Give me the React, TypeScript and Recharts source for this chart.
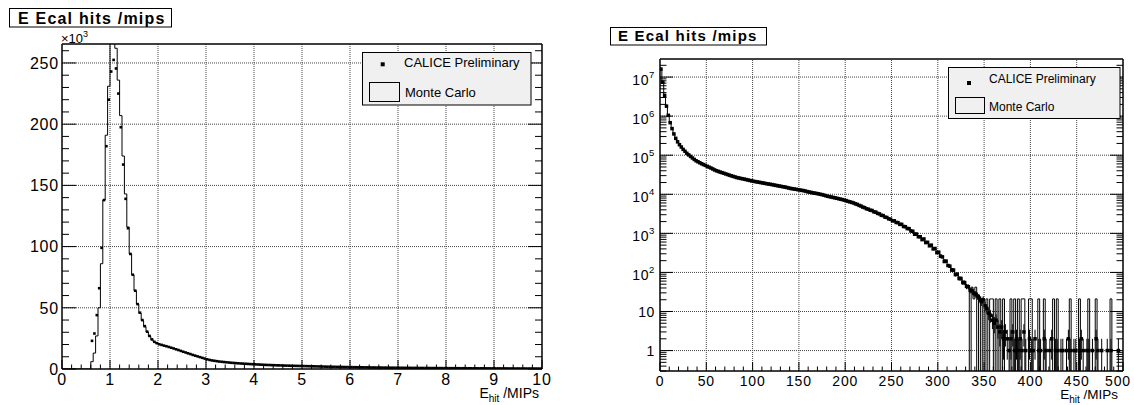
import React from 'react';
import { ComposedChart, Line, Scatter, XAxis, YAxis, ReferenceLine, ErrorBar } from 'recharts';

const FONT = '"Liberation Sans", Arial, Helvetica, sans-serif';

// ---- left panel: E_hit in MIPs, 0.05 MIP bins, entries in units of 10^3 ----
const leftBinWidth = 0.05;
const leftYMax = 265.5;

// bins 0..39 (0 - 2 MIPs), MC histogram
const leftMcHead = [
  0, 0, 0, 0, 0, 0, 0, 0, 0, 0,
  0, 0, 6, 13, 27, 50, 86, 138, 191, 231,
  280, 272, 262, 236, 207, 174, 143, 116, 94, 77,
  64, 53, 45.5, 39.5, 34.6, 30.2, 26.6, 23.9, 22, 20.9
];
// bins 0..39, data points
const leftDataHead = [
  0, 0, 0, 0, 0, 0, 0, 0, 0, 0,
  0, 0, 23, 29, 44, 66, 99, 138, 182, 220,
  243, 252.5, 245.5, 225, 197.5, 167, 139, 115, 94, 77,
  64, 53, 46, 40, 35, 30.5, 27, 24.2, 22.2, 21.1
];
// bins 40..199 (2 - 10 MIPs), data and MC lie on top of each other here
const leftTail = [
  20.2, 19.7, 19.1, 18.6, 18.0, 17.4, 16.8, 16.1, 15.5, 14.8,
  14.1, 13.5, 12.8, 12.2, 11.5, 10.9, 10.3, 9.7, 9.1, 8.5,
  7.9, 7.4, 7.0, 6.7, 6.4, 6.1, 5.9, 5.7, 5.5, 5.3,
  5.1, 4.95, 4.8, 4.65, 4.5, 4.4, 4.25, 4.15, 4.0, 3.9,
  3.8, 3.7, 3.6, 3.5, 3.4, 3.3, 3.25, 3.15, 3.1, 3.0,
  2.95, 2.9, 2.8, 2.75, 2.7, 2.65, 2.6, 2.55, 2.5, 2.45,
  2.4, 2.35, 2.3, 2.25, 2.2, 2.15, 2.1, 2.05, 2.0, 1.95,
  1.9, 1.85, 1.8, 1.78, 1.74, 1.7, 1.66, 1.62, 1.58, 1.55,
  1.52, 1.48, 1.45, 1.42, 1.39, 1.36, 1.33, 1.3, 1.27, 1.24,
  1.22, 1.19, 1.17, 1.14, 1.12, 1.1, 1.07, 1.05, 1.03, 1.01,
  0.99, 0.97, 0.95, 0.93, 0.91, 0.9, 0.88, 0.86, 0.85, 0.83,
  0.82, 0.8, 0.79, 0.77, 0.76, 0.75, 0.73, 0.72, 0.71, 0.7,
  0.68, 0.67, 0.66, 0.65, 0.64, 0.63, 0.62, 0.61, 0.6, 0.59,
  0.58, 0.57, 0.56, 0.55, 0.54, 0.53, 0.52, 0.51, 0.5, 0.5,
  0.49, 0.48, 0.47, 0.46, 0.45, 0.45, 0.44, 0.43, 0.42, 0.42,
  0.41, 0.4, 0.4, 0.39, 0.38, 0.38, 0.37, 0.36, 0.36, 0.35
];
const leftXLabels = ['0', '1', '2', '3', '4', '5', '6', '7', '8', '9', '10'];
const leftYLabels = ['0', '50', '100', '150', '200', '250'];

// ---- right panel: E_hit in MIPs, 2 MIP bins, entries (log scale) ----
const rightBinWidth = 2;
const rightYDomain = [0.3, 2.9e7];

// bins 0..109 (0 - 220 MIPs), data and MC coincide
const rightSmooth = [
  16000000, 7400000, 3400000, 1800000, 1050000, 680000, 480000, 350000, 270000, 220000,
  186000, 162000, 141000, 126000, 112000, 102000, 93000, 85000, 78000, 72000,
  68000, 64000, 60500, 57500, 55000, 52000, 49500, 47000, 44500, 42000,
  40000, 38500, 37000, 35800, 34500, 33200, 32000, 30800, 29700, 28700,
  27800, 26800, 26200, 25500, 25000, 24400, 23800, 23200, 22600, 22000,
  21500, 21100, 20700, 20300, 19900, 19500, 19100, 18700, 18400, 18000,
  17700, 17300, 16900, 16600, 16200, 15900, 15600, 15300, 14900, 14500,
  14100, 13900, 13600, 13400, 13100, 12900, 12600, 12400, 12100, 11700,
  11400, 11200, 10900, 10700, 10500, 10300, 10000, 9800, 9500, 9200,
  8900, 8700, 8500, 8300, 8100, 7900, 7700, 7500, 7300, 7100,
  6900, 6600, 6400, 6200, 6000, 5700, 5500, 5200, 5000, 4700
];
// bins 110..249 (220 - 500 MIPs), Monte Carlo
const rightMcTail = [
  4500, 4300, 4100, 3950, 3800, 3600, 3450, 3300, 3100, 2950,
  2800, 2650, 2500, 2400, 2250, 2150, 2050, 1950, 1850, 1750,
  1650, 1550, 1450, 1380, 1300, 1200, 1100, 1000, 930, 860,
  790, 730, 690, 620, 560, 520, 470, 430, 390, 350,
  310, 280, 240, 210, 180, 160, 140, 125, 110, 95,
  85, 75, 68, 60, 52, 47, 42, 0, 42, 21,
  42, 0, 21, 0, 21, 0, 21, 0, 21, 21,
  0, 21, 0, 21, 0, 21, 0, 0, 0, 21,
  0, 21, 0, 21, 0, 21, 21, 0, 0, 21,
  21, 0, 0, 0, 21, 0, 0, 21, 0, 0,
  0, 0, 21, 0, 21, 0, 0, 0, 0, 0,
  0, 21, 0, 0, 0, 0, 21, 0, 0, 0,
  0, 21, 0, 0, 0, 21, 0, 0, 0, 0,
  0, 0, 0, 21, 0, 0, 0, 0, 0, 0
];
// bins 110..249, data counts
const rightDataTail = [
  4550, 4250, 4150, 3900, 3850, 3550, 3500, 3250, 3150, 2900,
  2850, 2600, 2550, 2350, 2300, 2100, 2100, 1900, 1880, 1700,
  1700, 1500, 1480, 1330, 1320, 1150, 1130, 950, 960, 820,
  820, 690, 720, 580, 590, 480, 500, 400, 410, 320,
  330, 260, 250, 190, 195, 150, 145, 115, 115, 88,
  90, 70, 70, 55, 55, 44, 43, 35, 34, 29,
  28, 25, 22, 18, 20, 14, 12, 9, 8, 6,
  5, 6, 4, 3, 4, 2, 3, 2, 1, 2,
  3, 1, 2, 1, 2, 1, 3, 1, 0, 2,
  1, 1, 2, 0, 1, 1, 0, 2, 1, 0,
  1, 2, 0, 1, 1, 0, 1, 1, 0, 1,
  2, 1, 0, 1, 1, 0, 1, 2, 1, 0,
  1, 1, 0, 1, 0, 2, 1, 0, 1, 0,
  0, 1, 0, 1, 0, 0, 0, 1, 0, 0
];
const rightXLabels = ['0', '50', '100', '150', '200', '250', '300', '350', '400', '450', '500'];
const rightYMajor = [1, 10, 100, 1e3, 1e4, 1e5, 1e6, 1e7];
const rightYLabels = [['1', ''], ['10', ''], ['10', '2'], ['10', '3'], ['10', '4'], ['10', '5'], ['10', '6'], ['10', '7']];

// ---- tables for the library ----
const LOG_FLOOR = 0.01; // empty bins drop below the log axis and get clipped

const leftMc = [...leftMcHead, ...leftTail];
const leftData = [...leftDataHead, ...leftTail];
const leftMcRows = [
  ...leftMc.map((v, i) => ({ x: i * leftBinWidth, mc: v })),
  { x: leftMc.length * leftBinWidth, mc: leftMc[leftMc.length - 1] }
];
const leftDataRows = leftData
  .map((v, i) => ({ x: (i + 0.5) * leftBinWidth, y: v }))
  .filter((r) => r.y > 0);

const rightMc = [...rightSmooth, ...rightMcTail];
const rightData = [...rightSmooth, ...rightDataTail];
const rightMcRows = [
  ...rightMc.map((v, i) => ({ x: i * rightBinWidth, mc: v > 0 ? v : LOG_FLOOR })),
  { x: rightMc.length * rightBinWidth, mc: LOG_FLOOR }
];
const rightDataRows = rightData
  .map((n, i) => ({
    x: (i + 0.5) * rightBinWidth,
    y: n,
    err: [n - Math.max(n - Math.sqrt(n), rightYDomain[0]), Math.sqrt(n)]
  }))
  .filter((r) => r.y > 0);

const leftXMajor = leftXLabels.map(Number);
const leftYMajor = leftYLabels.map(Number);
const rightXMajor = rightXLabels.map(Number);

function linearTicks(lo: number, hi: number, step: number) {
  const out: number[] = [];
  for (let i = 0; lo + i * step <= hi + 1e-9; i++) out.push(+(lo + i * step).toFixed(6));
  return out;
}
function logTicks(lo: number, hi: number) {
  const out: number[] = [];
  for (let k = -1; k <= 7; k++) {
    for (let d = 1; d <= 9; d++) {
      const v = d * Math.pow(10, k);
      if (v >= lo && v <= hi) out.push(v);
    }
  }
  return out;
}
const leftXTicks = linearTicks(0, 10, 0.2);
const leftYTicks = linearTicks(0, 265, 10);
const rightXTicks = linearTicks(0, 500, 10);
const rightYTicks = logTicks(rightYDomain[0], rightYDomain[1]);

type Side = 'bottom' | 'top' | 'left' | 'right';

function isIn(majors: number[], v: number) {
  return majors.some((m) => Math.abs(m - v) <= 1e-6 * Math.max(1, Math.abs(m)));
}

// ROOT-style ticks: drawn inwards, major ones longer, labels only on majors
function tickRenderer(
  side: Side,
  majors: number[],
  majorLen: number,
  minorLen: number,
  label?: (v: number, x: number, y: number) => React.ReactNode
) {
  return (p: any) => {
    const x = Number(p.x);
    const y = Number(p.y);
    const v = Number(p.payload?.value);
    const major = isIn(majors, v);
    const len = major ? majorLen : minorLen;
    const d =
      side === 'bottom' ? [x, y, x, y - len]
      : side === 'top' ? [x, y, x, y + len]
      : side === 'left' ? [x, y, x + len, y]
      : [x, y, x - len, y];
    return (
      <g>
        <line x1={d[0]} y1={d[1]} x2={d[2]} y2={d[3]} stroke="#000" strokeWidth={1} />
        {major && label ? label(v, x, y) : null}
      </g>
    );
  };
}

const frame = { stroke: '#000', strokeWidth: 1.5 };
const gridStyle = { stroke: '#444', strokeDasharray: '1 1', strokeWidth: 1 };

// axes get a 1px box (a 0px box is not drawn); the margins below account for it
const axisCommon = {
  type: 'number' as const,
  allowDataOverflow: true,
  interval: 0 as const,
  tickSize: 0,
  tickMargin: 0,
  tickLine: false,
  axisLine: frame
};

function square(size: number) {
  return (p: any) => (
    <rect x={p.cx - size / 2} y={p.cy - size / 2} width={size} height={size} fill="#000" />
  );
}

function LeftPanel() {
  const xLabel = (v: number, x: number, y: number) => (
    <text x={x} y={y + 16} textAnchor="middle" fontSize={16} fontFamily={FONT} fill="#000" letterSpacing={0.8}>
      {leftXLabels[leftXMajor.indexOf(v)]}
    </text>
  );
  const yLabel = (v: number, x: number, y: number) => (
    <text x={x - 3} y={y + 5.8} textAnchor="end" fontSize={16} fontFamily={FONT} fill="#000" letterSpacing={0.8}>
      {leftYLabels[leftYMajor.indexOf(v)]}
    </text>
  );
  return (
    <div style={{ position: 'absolute', left: 0, top: 0, width: 560, height: 405 }}>
      <ComposedChart width={560} height={405} margin={{ top: 43, right: 17, bottom: 35, left: 61 }}>
        <XAxis {...axisCommon} xAxisId="b" dataKey="x" domain={[0, 10]} ticks={leftXTicks} height={1}
          tick={tickRenderer('bottom', leftXMajor, 9, 4.5, xLabel)} />
        <XAxis {...axisCommon} xAxisId="t" orientation="top" domain={[0, 10]} ticks={leftXTicks} height={1}
          tick={tickRenderer('top', leftXMajor, 9, 4.5)} />
        <YAxis {...axisCommon} yAxisId="l" domain={[0, leftYMax]} ticks={leftYTicks} width={1}
          tick={tickRenderer('left', leftYMajor, 14, 7, yLabel)} />
        <YAxis {...axisCommon} yAxisId="r" orientation="right" domain={[0, leftYMax]} ticks={leftYTicks} width={1}
          tick={tickRenderer('right', leftYMajor, 14, 7)} />
        {leftXMajor.slice(1, -1).map((v) => (
          <ReferenceLine key={'gx' + v} xAxisId="b" yAxisId="l" x={v} {...gridStyle} />
        ))}
        {leftYMajor.slice(1).map((v) => (
          <ReferenceLine key={'gy' + v} xAxisId="b" yAxisId="l" y={v} {...gridStyle} />
        ))}
        <Line xAxisId="b" yAxisId="l" data={leftMcRows} dataKey="mc" type="stepAfter" stroke="#000"
          strokeWidth={1} dot={false} activeDot={false} isAnimationActive={false} />
        <Scatter xAxisId="b" yAxisId="l" data={leftDataRows} dataKey="y" shape={square(2.6)} isAnimationActive={false} />
      </ComposedChart>
    </div>
  );
}

function RightPanel() {
  const last = rightXMajor[rightXMajor.length - 1];
  const xLabel = (v: number, x: number, y: number) => (
    // the last label is pulled in a little so it stays inside the page
    <text x={v === last ? x - 5 : x} y={y + 15} textAnchor="middle" fontSize={14} fontFamily={FONT} fill="#000" letterSpacing={0.8}>
      {rightXLabels[rightXMajor.indexOf(v)]}
    </text>
  );
  const yLabel = (v: number, x: number, y: number) => {
    const idx = rightYMajor.findIndex((m) => isIn([m], v));
    const [base, exp] = rightYLabels[idx];
    return (
      <text x={x - 5} y={y + (exp ? 8 : 5.5)} textAnchor="end" fontSize={14} fontFamily={FONT} fill="#000" letterSpacing={0.6}>
        {base}
        {exp ? <tspan fontSize={9.5} dy={-7.5}>{exp}</tspan> : null}
      </text>
    );
  };
  return (
    <div style={{ position: 'absolute', left: 560, top: 0, width: 574, height: 405 }}>
      <ComposedChart width={574} height={405} margin={{ top: 58, right: 10, bottom: 33, left: 99 }}>
        <XAxis {...axisCommon} xAxisId="b" dataKey="x" domain={[0, 500]} ticks={rightXTicks} height={1}
          tick={tickRenderer('bottom', rightXMajor, 9, 4.5, xLabel)} />
        <XAxis {...axisCommon} xAxisId="t" orientation="top" domain={[0, 500]} ticks={rightXTicks} height={1}
          tick={tickRenderer('top', rightXMajor, 9, 4.5)} />
        <YAxis {...axisCommon} yAxisId="l" scale="log" domain={rightYDomain} ticks={rightYTicks} width={1}
          tick={tickRenderer('left', rightYMajor, 13, 6.5, yLabel)} />
        <YAxis {...axisCommon} yAxisId="r" orientation="right" scale="log" domain={rightYDomain} ticks={rightYTicks} width={1}
          tick={tickRenderer('right', rightYMajor, 13, 6.5)} />
        {rightXMajor.slice(1, -1).map((v) => (
          <ReferenceLine key={'gx' + v} xAxisId="b" yAxisId="l" x={v} {...gridStyle} />
        ))}
        {rightYMajor.map((v) => (
          <ReferenceLine key={'gy' + v} xAxisId="b" yAxisId="l" y={v} {...gridStyle} />
        ))}
        <Line xAxisId="b" yAxisId="l" data={rightMcRows} dataKey="mc" type="stepAfter" stroke="#000"
          strokeWidth={1} dot={false} activeDot={false} isAnimationActive={false} />
        <Scatter xAxisId="b" yAxisId="l" data={rightDataRows} dataKey="y" shape={square(3.5)} isAnimationActive={false}>
          <ErrorBar dataKey="err" direction="y" width={0} stroke="#000" strokeWidth={1} isAnimationActive={false} />
        </Scatter>
      </ComposedChart>
    </div>
  );
}

function Overlay() {
  return (
    <svg width={1134} height={405} fontFamily={FONT}
      style={{ position: 'absolute', left: 0, top: 0, pointerEvents: 'none' }}>
      {/* histogram titles */}
      <rect x={9.5} y={8.5} width={162} height={18.5} fill="#fff" stroke="#000" />
      <text x={18} y={24} fontSize={16} fontWeight="bold" letterSpacing={1.2}>E Ecal hits /mips</text>
      <rect x={610.5} y={27.5} width={156} height={17.5} fill="#fff" stroke="#000" />
      <text x={618} y={40.5} fontSize={15} fontWeight="bold" letterSpacing={1.2}>E Ecal hits /mips</text>

      {/* axis multiplier */}
      <text x={61} y={42.5} fontSize={13}>
        ×10<tspan fontSize={9} dy={-6}>3</tspan>
      </text>

      {/* left legend */}
      <rect x={362.5} y={52.5} width={168.5} height={52.5} fill="#f0f0f0" stroke="#000" />
      <rect x={380.7} y={62.3} width={4} height={4} fill="#000" />
      <text x={404} y={67.3} fontSize={13}>CALICE Preliminary</text>
      <rect x={369.5} y={82.5} width={30} height={19} fill="#f0f0f0" stroke="#000" />
      <text x={405} y={97.3} fontSize={13}>Monte Carlo</text>

      {/* right legend */}
      <rect x={948.5} y={67.5} width={171.5} height={51} fill="#f0f0f0" stroke="#000" />
      <rect x={967} y={81} width={4} height={4} fill="#000" />
      <text x={989} y={83.3} fontSize={12}>CALICE Preliminary</text>
      <rect x={955.5} y={97.5} width={29} height={16} fill="#f0f0f0" stroke="#000" />
      <text x={989} y={111.3} fontSize={12}>Monte Carlo</text>

      {/* x axis titles */}
      <text x={539} y={398} textAnchor="end" fontSize={14}>
        E<tspan fontSize={10} dy={4}>hit</tspan><tspan dy={-4}> /MIPs</tspan>
      </text>
      <text x={1118} y={399} textAnchor="end" fontSize={13.5}>
        E<tspan fontSize={10} dy={4}>hit</tspan><tspan dy={-4}> /MIPs</tspan>
      </text>
    </svg>
  );
}

export default function App() {
  return (
    <div style={{ position: 'absolute', left: 0, top: 0, width: 1134, height: 405, background: '#fff', overflow: 'hidden', fontFamily: FONT }}>
      <LeftPanel />
      <RightPanel />
      <Overlay />
    </div>
  );
}
